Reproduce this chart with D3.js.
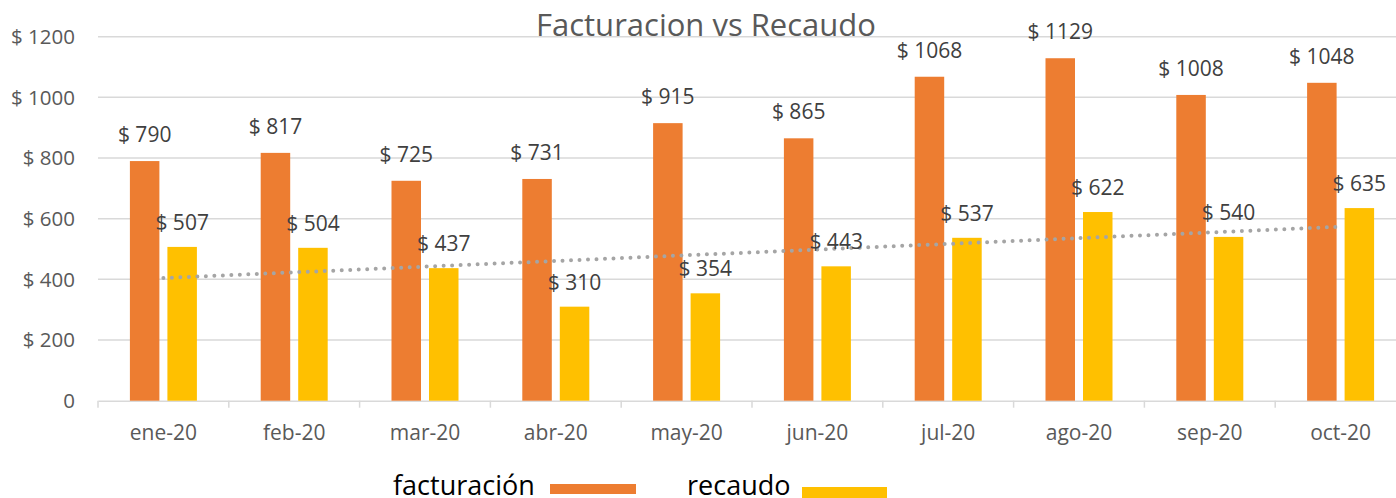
<!DOCTYPE html>
<html>
<head>
<meta charset="utf-8">
<script src="https://cdn.jsdelivr.net/npm/d3@7"></script>
<style>
  html, body { margin: 0; padding: 0; background: #fff; }
  svg { display: block; font-family: "Open Sans", sans-serif; }
</style>
</head>
<body>
<svg id="chart" width="1396" height="498"></svg>
<script>
const categories = ["ene-20", "feb-20", "mar-20", "abr-20", "may-20", "jun-20", "jul-20", "ago-20", "sep-20", "oct-20"];
const facturacion = [790, 817, 725, 731, 915, 865, 1068, 1129, 1008, 1048];
const recaudo = [507, 504, 437, 310, 354, 443, 537, 622, 540, 635];
const yTicks = [0, 200, 400, 600, 800, 1000, 1200];
const title = "Facturacion vs Recaudo";
const seriesNames = ["facturación", "recaudo"];

const colors = { fact: "#ED7D31", rec: "#FFC000", grid: "#D9D9D9", trend: "#A5A5A5", tick: "#595959", label: "#404040" };

const svg = d3.select("#chart");

const y = d3.scaleLinear().domain([0, 1200]).range([400.7, 36.7]);
const x = d3.scaleBand().domain(categories).range([98, 1406]).padding(0);
const center = c => x(c) + x.bandwidth() / 2;
const barW = 29.5, gap = 4;

// gridlines
svg.append("g").selectAll("line").data(yTicks.filter(d => d > 0)).join("line")
  .attr("x1", 98).attr("x2", 1406)
  .attr("y1", d => y(d)).attr("y2", d => y(d))
  .attr("stroke", colors.grid).attr("stroke-width", 1.5);

// y tick labels
svg.append("g").selectAll("text").data(yTicks).join("text")
  .attr("x", 75).attr("y", d => y(d)).attr("dy", "0.35em")
  .attr("text-anchor", "end").attr("font-size", 20.5).attr("fill", colors.tick)
  .text(d => d === 0 ? "0" : "$ " + d);

// x axis
const xAxis = d3.axisBottom(x).tickSize(0).tickSizeOuter(0);
const gx = svg.append("g").attr("transform", `translate(0,${y(0)})`).call(xAxis);
gx.select(".domain").attr("stroke", colors.grid).attr("stroke-width", 1.5);
gx.selectAll(".tick text").attr("font-family", "Open Sans, sans-serif").attr("font-size", 21)
  .attr("fill", colors.tick).attr("dy", 0).attr("y", 39.5);
// boundary ticks
svg.append("g").selectAll("line").data(categories).join("line")
  .attr("x1", d => x(d)).attr("x2", d => x(d))
  .attr("y1", y(0)).attr("y2", y(0) + 7)
  .attr("stroke", colors.grid).attr("stroke-width", 1.5);

// bars
svg.append("g").selectAll("rect").data(categories).join("rect")
  .attr("x", c => center(c) - gap - barW).attr("width", barW)
  .attr("y", (c, i) => y(facturacion[i])).attr("height", (c, i) => y(0) - y(facturacion[i]))
  .attr("fill", colors.fact);
svg.append("g").selectAll("rect").data(categories).join("rect")
  .attr("x", c => center(c) + gap).attr("width", barW)
  .attr("y", (c, i) => y(recaudo[i])).attr("height", (c, i) => y(0) - y(recaudo[i]))
  .attr("fill", colors.rec);

// linear trendline of recaudo (least squares)
const n = recaudo.length;
const mx = d3.mean(d3.range(n)), my = d3.mean(recaudo);
const slope = d3.sum(d3.range(n), i => (i - mx) * (recaudo[i] - my)) / d3.sum(d3.range(n), i => (i - mx) ** 2);
const icpt = my - slope * mx;
svg.append("line")
  .attr("x1", center(categories[0])).attr("y1", y(icpt))
  .attr("x2", center(categories[n - 1])).attr("y2", y(icpt + slope * (n - 1)))
  .attr("stroke", colors.trend).attr("stroke-width", 4)
  .attr("stroke-linecap", "round").attr("stroke-dasharray", "0 8.5");

// data labels
svg.append("g").selectAll("text").data(categories).join("text")
  .attr("x", c => center(c) - gap - barW / 2).attr("y", (c, i) => y(facturacion[i]) - 19)
  .attr("text-anchor", "middle").attr("font-size", 21).attr("fill", colors.label)
  .text((c, i) => "$ " + facturacion[i]);
svg.append("g").selectAll("text").data(categories).join("text")
  .attr("x", c => center(c) + gap + barW / 2).attr("y", (c, i) => y(recaudo[i]) - 17)
  .attr("text-anchor", "middle").attr("font-size", 21).attr("fill", colors.label)
  .text((c, i) => "$ " + recaudo[i]);

// title
svg.append("text").attr("x", 706).attr("y", 36).attr("text-anchor", "middle")
  .attr("font-size", 31).attr("fill", colors.tick).text(title);

// legend
const leg = svg.append("g");
leg.append("text").attr("x", 393).attr("y", 495).attr("font-size", 27).attr("fill", "#000").text(seriesNames[0]);
leg.append("rect").attr("x", 550).attr("y", 484).attr("width", 86).attr("height", 10).attr("fill", colors.fact);
leg.append("text").attr("x", 687).attr("y", 495).attr("font-size", 27).attr("fill", "#000").text(seriesNames[1]);
leg.append("rect").attr("x", 802).attr("y", 487).attr("width", 85).attr("height", 11).attr("fill", colors.rec);
</script>
</body>
</html>
